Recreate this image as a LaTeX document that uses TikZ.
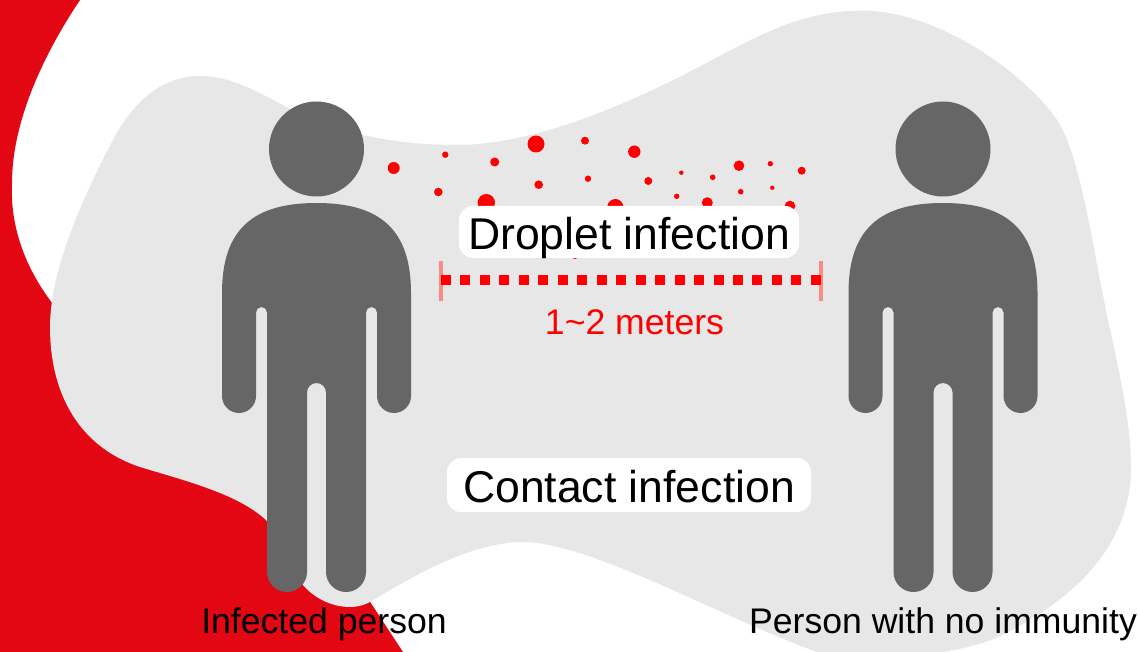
\documentclass[tikz,border=0pt]{standalone}
\usepackage{fontspec}
\setmainfont{Liberation Sans}
\definecolor{bloodred}{HTML}{E30613}
\definecolor{blobgray}{HTML}{E7E7E7}
\definecolor{persongray}{HTML}{666666}
\definecolor{dropred}{HTML}{FF0000}
\definecolor{ticksalmon}{HTML}{F98A84}
\tikzset{
  personfig/.pic={
    \fill[persongray] (0,149) circle[radius=47.5];
    \fill[persongray] (-94.5,293) .. controls (-94.5,228) and (-62,203) .. (0,203)
      .. controls (62,203) and (94.5,228) .. (94.5,293) -- (94.5,396)
      arc[start angle=0,end angle=180,radius=17] -- (60.5,312.5)
      arc[start angle=0,end angle=-180,radius=5.5] -- (49.5,572)
      arc[start angle=0,end angle=180,radius=20] -- (9.5,392.5)
      arc[start angle=0,end angle=-180,radius=9.5] -- (-9.5,572)
      arc[start angle=0,end angle=180,radius=20] -- (-49.5,312.5)
      arc[start angle=0,end angle=-180,radius=5.5] -- (-60.5,396)
      arc[start angle=0,end angle=180,radius=17] -- cycle;
  },
  whitelabel/.style={fill=white,rounded corners=14*0.75pt,inner sep=0pt,text=black,font=\fontsize{33.4}{36}\selectfont},
  caption/.style={inner sep=0pt,anchor=base,text=black,font=\fontsize{26.7}{30}\selectfont},
  tick/.style={draw=ticksalmon,line width=3pt}
}
\begin{document}
\begin{tikzpicture}[x=0.75pt,y=-0.75pt]
  \useasboundingbox (0,0) rectangle (1138,652);
  \fill[white] (0,0) rectangle (1138,652);
  \fill[bloodred] (0,0) -- (80,0) .. controls (40,60) and (12,125) .. (12,183)
    .. controls (10,225) and (24,268) .. (56,308) -- (342.6,560) -- (403,652) -- (0,652) -- cycle;
  \begin{scope}
    \clip (0,0) rectangle (1138,652);
    \fill[blobgray] (50,327) .. controls (50,270) and (83,197) .. (113,140)
      .. controls (135,98) and (165,76) .. (200,76)
      .. controls (232,76) and (262,94) .. (290,109)
      .. controls (340,135) and (400,145) .. (457,145)
      .. controls (530,145) and (620,108) .. (693,70)
      .. controls (760,35) and (800,10.7) .. (862,10.7)
      .. controls (940,10.7) and (1025,75) .. (1055,117)
      .. controls (1080,152) and (1090,235) .. (1108,320)
      .. controls (1120,375) and (1131,425) .. (1131,467)
      .. controls (1131,545) and (1075,600) .. (998,637)
      .. controls (960,655) and (857,666) .. (817,652)
      .. controls (727,620) and (590,542) .. (523,542)
      .. controls (470,542) and (410,578) .. (370,602)
      .. controls (350,613) and (320,605) .. (303,585)
      .. controls (290,565) and (280,535) .. (267,521)
      .. controls (240,495) and (190,482) .. (140,467)
      .. controls (80,447) and (50,395) .. (50,327) -- cycle;
  \end{scope}
  \foreach \px/\py/\pr in {393.7/168/6,445.3/154.7/3.2,494.7/162/4.5,536/144/8.5,585/140.7/4,
      634.3/151.7/6.2,438.3/192/4.3,538.7/184.7/4.3,588/178.7/3.2,648.3/181/4,681.3/172.7/2.2,
      712.7/177.3/2.8,739/165.7/5.3,770.3/163.7/2.7,801.7/170.7/4,676.7/196.3/2.7,740.7/191.7/2.8,
      772.3/187.7/2.2,486.3/202.7/8.7,615.3/207/8,707.3/202.7/5.5,790/206/5.3,575/256/3}
    \fill[dropred] (\px,\py) circle[radius=\pr];
  \pic (infected) at (316.5,0) {personfig};
  \pic (healthy) at (943,0) {personfig};
  \node[whitelabel,minimum width=340*0.75pt,text height=43.7*0.75pt,text depth=8.3*0.75pt] (droplet) at (629,232) {Droplet infection};
  \node[whitelabel,minimum width=364*0.75pt,text height=44*0.75pt,text depth=10*0.75pt] (contact) at (629,485) {Contact infection};
  \coordinate (gapleft) at (441,280);
  \coordinate (gapright) at (821,280);
  \draw[tick] (441,261) -- (441,301);
  \draw[tick] (821,261) -- (821,301);
  \draw[dropred,line width=7.5pt,dash pattern=on 7.5pt off 7.1pt] (gapleft) -- (gapright);
  \node[caption,text=dropred] (distance) at (634.5,334) {1\char`\~2 meters};
  \node[caption] (infectedlabel) at (324,633) {Infected person};
  \node[caption] (healthylabel) at (943,633) {Person with no immunity};
\end{tikzpicture}
\end{document}
